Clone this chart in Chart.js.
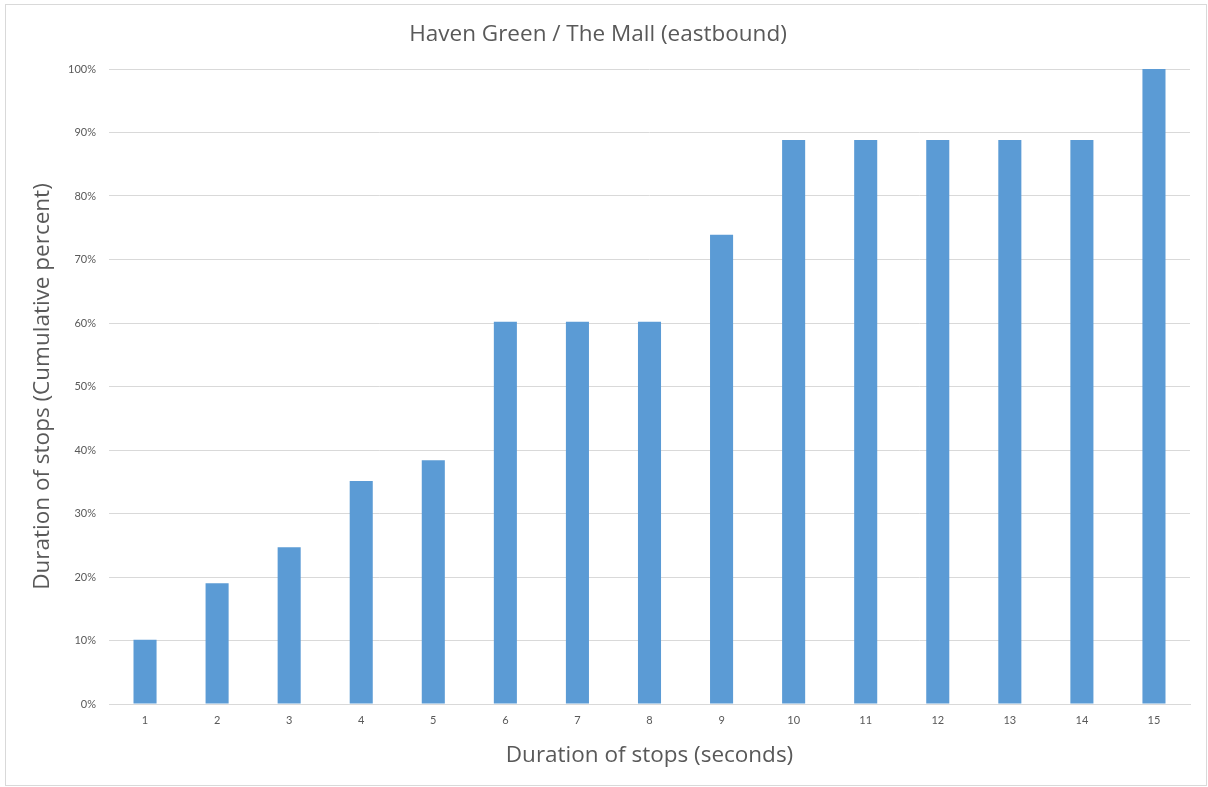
<!DOCTYPE html>
<html>
<head>
<meta charset="utf-8">
<script src="https://cdn.jsdelivr.net/npm/chart.js@4"></script>
<style>
  body { margin: 0; background: #fff; }
  #box { position: absolute; left: 5px; top: 4px; width: 1200px; height: 780px; border: 1px solid #d9d9d9; }
</style>
</head>
<body>
<div id="box"><canvas id="myChart" width="1200" height="780"></canvas></div>
<script>
var seconds = ['1', '2', '3', '4', '5', '6', '7', '8', '9', '10', '11', '12', '13', '14', '15'];
var cumulativePct = [10.1, 19.0, 24.7, 35.1, 38.4, 60.2, 60.2, 60.2, 73.9, 88.8, 88.8, 88.8, 88.8, 88.8, 100];
var yTicks = [0, 10, 20, 30, 40, 50, 60, 70, 80, 90, 100];

var titleFont = '"Open Sans", sans-serif';
var tickFont = 'Lato, "Open Sans", sans-serif';
var grey = '#595959';

var ctx = document.getElementById('myChart').getContext('2d');
var myChart = new Chart(ctx, {
    type: 'bar',
    data: {
        labels: seconds,
        datasets: [{
            data: cumulativePct,
            backgroundColor: '#5b9bd5',
            barPercentage: 0.32,
            categoryPercentage: 1
        }]
    },
    options: {
        responsive: false,
        animation: false,
        layout: { padding: { left: 0, right: 16, top: 0, bottom: 0 } },
        plugins: {
            legend: { display: false },
            tooltip: { enabled: false },
            title: {
                display: true,
                text: 'Haven Green / The Mall (eastbound)',
                color: grey,
                font: { family: titleFont, size: 22.5, weight: 'normal', lineHeight: 1.2 },
                padding: { top: 16.5, bottom: 20.5 }
            }
        },
        scales: {
            x: {
                grid: { display: false, drawTicks: false },
                border: { display: true, color: '#d9d9d9', width: 1 },
                ticks: { color: grey, font: { family: tickFont, size: 11 }, padding: 10, maxRotation: 0 },
                title: {
                    display: true,
                    text: 'Duration of stops (seconds)',
                    color: grey,
                    font: { family: titleFont, size: 22.5, lineHeight: 1.2 },
                    padding: { top: 0, bottom: 16 }
                },
                afterFit: function (s) { s.height = 81; }
            },
            y: {
                min: 0,
                max: 100,
                afterBuildTicks: function (s) { s.ticks = yTicks.map(function (v) { return { value: v }; }); },
                grid: { color: '#d9d9d9', drawTicks: false },
                border: { display: false },
                ticks: {
                    color: grey,
                    font: { family: tickFont, size: 11 },
                    padding: 13,
                    callback: function (v) { return v + '%'; }
                },
                title: {
                    display: true,
                    text: 'Duration of stops (Cumulative percent)',
                    color: grey,
                    font: { family: titleFont, size: 22.5, lineHeight: 1.2 },
                    padding: { top: 23.5, bottom: 0 }
                },
                afterFit: function (s) { s.width = 103; }
            }
        }
    }
});
</script>
</body>
</html>
